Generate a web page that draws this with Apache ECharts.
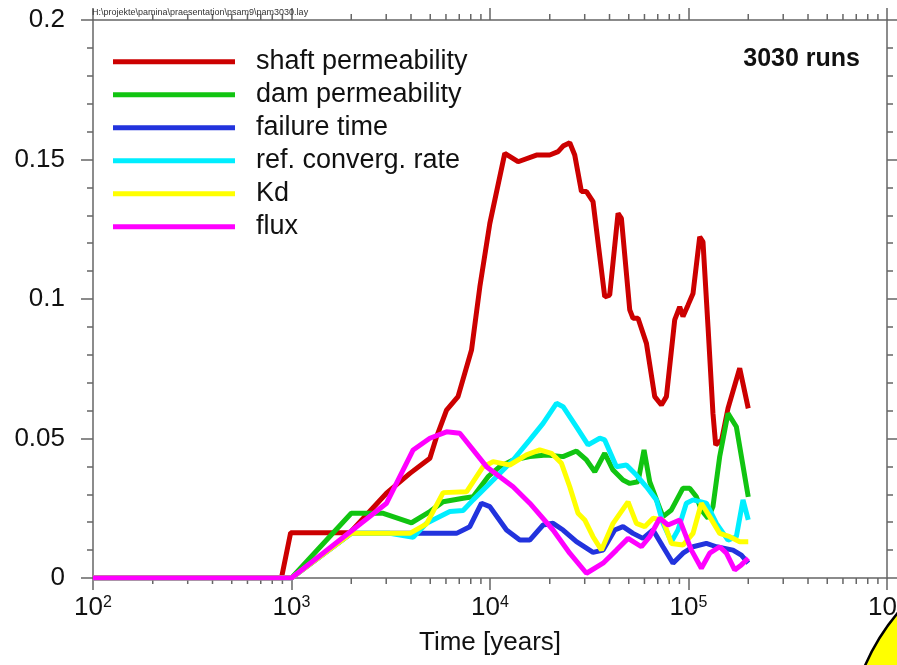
<!DOCTYPE html>
<html>
<head>
<meta charset="utf-8">
<script src="https://cdn.jsdelivr.net/npm/echarts@6/dist/echarts.min.js"></script>
<style>
html,body{margin:0;padding:0;background:#ffffff;}
#chart{width:897px;height:665px;}
</style>
</head>
<body>
<div id="chart"></div>
<script>
// ---- data (time in years, value) ----
const seriesNames = ['shaft permeability','dam permeability','failure time','ref. converg. rate','Kd','flux'];
const seriesColors = ['#cc0000','#11c411','#2233dd','#00eeff','#ffff00','#ff00ff'];

const shaftPermeability = [[100,0],[890,0],[990,0.0162],[1970,0.0162],[3010,0.0304],[3950,0.0375],[4980,0.0429],[5380,0.0506],[6040,0.0602],[6900,0.0650],[8070,0.0817],[8890,0.1044],[9980,0.1271],[11870,0.1522],[13850,0.1492],[17140,0.1516],[20000,0.1516],[22030,0.1528],[23340,0.1548],[25220,0.1560],[26720,0.1516],[28890,0.1385],[30620,0.1385],[33040,0.1349],[37840,0.1008],[40090,0.1014],[44170,0.1307],[45920,0.1289],[50580,0.0961],[52540,0.0931],[55680,0.0931],[61390,0.0841],[67590,0.0650],[73040,0.0620],[77390,0.0650],[85210,0.0925],[90300,0.0972],[93800,0.0937],[99400,0.0978],[105370,0.1020],[113900,0.1223],[118300,0.1205],[125400,0.0901],[132800,0.0590],[137100,0.0477],[146900,0.0495],[158100,0.0608],[181100,0.0752],[200000,0.0608]];

const damPermeability = [[100,0],[1000,0],[2000,0.0232],[2480,0.0232],[2900,0.0232],[4025,0.0198],[4977,0.0238],[5806,0.0273],[7320,0.0286],[8222,0.0291],[9780,0.0363],[11200,0.0399],[13070,0.0423],[15860,0.0435],[19250,0.0441],[23340,0.0435],[27260,0.0455],[30620,0.0423],[33710,0.0381],[37840,0.0447],[41670,0.0387],[46780,0.0351],[50580,0.0339],[55680,0.0345],[59700,0.0459],[63770,0.0345],[71610,0.0250],[74390,0.0220],[82000,0.0244],[93800,0.0322],[101400,0.0322],[109600,0.0291],[116100,0.0244],[125400,0.0214],[132800,0.0256],[143600,0.0435],[158100,0.0590],[174200,0.0542],[200000,0.0291]];

const failureTime = [[100,0],[1000,0],[2000,0.0160],[4100,0.0160],[4977,0.0160],[6780,0.0160],[7910,0.0184],[9060,0.0268],[9980,0.0256],[12110,0.0172],[14130,0.0136],[15860,0.0136],[18510,0.0190],[20780,0.0196],[23340,0.0172],[27260,0.0130],[33040,0.0092],[37110,0.0100],[42490,0.0172],[46780,0.0184],[52540,0.0160],[58980,0.0142],[66250,0.0172],[74390,0.0112],[83540,0.0053],[93800,0.0089],[105370,0.0112],[123000,0.0124],[138200,0.0112],[167500,0.0100],[184600,0.0082],[200000,0.0053]];

const refConvergRate = [[100,0],[1000,0],[2000,0.0160],[3130,0.0160],[4100,0.0146],[4790,0.0196],[6276,0.0238],[7320,0.0242],[8222,0.0280],[10780,0.0363],[13070,0.0423],[15860,0.0495],[18510,0.0554],[21620,0.0626],[23340,0.0614],[27260,0.0542],[31190,0.0477],[35720,0.0501],[37840,0.0495],[43350,0.0399],[48660,0.0405],[54650,0.0369],[61390,0.0327],[68900,0.0280],[74390,0.0196],[82000,0.0130],[88520,0.0172],[97530,0.0268],[105370,0.0280],[123000,0.0268],[138200,0.0196],[158100,0.0136],[174200,0.0148],[188200,0.0280],[200000,0.0208]];

const kd = [[100,0],[1000,0],[2000,0.0160],[3948,0.0160],[4790,0.0194],[5806,0.0306],[7616,0.0309],[9232,0.0399],[10360,0.0417],[12580,0.0405],[15270,0.0441],[17820,0.0459],[20400,0.0447],[22910,0.0411],[25220,0.0327],[27770,0.0232],[30010,0.0208],[33040,0.0148],[36430,0.0100],[41690,0.0196],[49600,0.0273],[54650,0.0196],[60190,0.0184],[66250,0.0214],[74390,0.0208],[82000,0.0124],[93800,0.0118],[105370,0.0160],[116100,0.0268],[127900,0.0220],[143600,0.0160],[161300,0.0148],[181100,0.0130],[200000,0.0130]];

const flux = [[100,0],[1000,0],[3013,0.0268],[4100,0.0459],[4977,0.0501],[6039,0.0524],[7046,0.0519],[9603,0.0399],[13070,0.0327],[15860,0.0268],[20780,0.0172],[25220,0.0089],[30620,0.0017],[37110,0.0053],[43350,0.0100],[49600,0.0142],[57930,0.0112],[63770,0.0148],[71610,0.0214],[78860,0.0190],[90300,0.0208],[103400,0.0100],[116100,0.0035],[127900,0.0089],[143600,0.0112],[155200,0.0089],[170900,0.0029],[184600,0.0047],[200000,0.0071]];

const allSeries = [shaftPermeability, damPermeability, failureTime, refConvergRate, kd, flux];

// axis ranges and ticks
const xMin = 100, xMax = 1000000;
const yMin = 0, yMax = 0.2, yStep = 0.05;
const minorTickValues = [200,300,400,500,600,700,800,900,2000,3000,4000,5000,6000,7000,8000,9000,20000,30000,40000,50000,60000,70000,80000,90000,200000,300000,400000,500000,600000,700000,800000,900000];

const titleText = '3030 runs';
const fileText = 'H:\\projekte\\pamina\\praesentation\\psam9\\pam3030.lay';
const xAxisName = 'Time [years]';

// ---- chart ----
const FONT = '"Liberation Sans", Arial, Helvetica, sans-serif';
const AXIS_COLOR = '#666666';
const chart = echarts.init(document.getElementById('chart'), null, {renderer: 'canvas'});

const lineSeries = allSeries.map((d, i) => ({
  name: seriesNames[i],
  type: 'line',
  data: d,
  showSymbol: false,
  symbol: 'none',
  lineStyle: {color: seriesColors[i], width: 5},
  itemStyle: {color: seriesColors[i]},
  z: 3 + i
}));

const tickSeries = {
  type: 'custom',
  silent: true,
  clip: false,
  data: minorTickValues.map(v => [v, 0]),
  encode: {x: 0, y: 1},
  z: 1,
  renderItem: function (params, api) {
    const v = api.value(0);
    const b = api.coord([v, yMin]);
    const t = api.coord([v, yMax]);
    return {
      type: 'group',
      children: [
        {type: 'line', shape: {x1: b[0], y1: b[1], x2: b[0], y2: b[1] + 6}, style: {stroke: AXIS_COLOR, lineWidth: 1.5}},
        {type: 'line', shape: {x1: t[0], y1: t[1], x2: t[0], y2: t[1] - 6}, style: {stroke: AXIS_COLOR, lineWidth: 1.5}}
      ]
    };
  }
};

function yFmt(v) { return String(parseFloat(v.toFixed(2))); }
function xFmt(v) { return '{b|10}{s|' + Math.round(Math.log10(v)) + '}'; }

const option = {
  backgroundColor: '#ffffff',
  animation: false,
  title: [
    {text: titleText, right: 37, top: 47, padding: 0,
     textStyle: {fontFamily: FONT, fontSize: 25, fontWeight: 'bold', color: '#111111'}},
    {text: fileText, left: 92, top: 8, padding: 0,
     textStyle: {fontFamily: FONT, fontSize: 9, fontWeight: 'normal', color: '#333333'}}
  ],
  legend: {
    data: seriesNames,
    orient: 'vertical',
    left: 113,
    top: 48.2,
    padding: 0,
    itemWidth: 122,
    itemHeight: 5,
    itemGap: 6,
    icon: 'rect',
    selectedMode: false,
    textStyle: {fontFamily: FONT, fontSize: 27, lineHeight: 27, color: '#111111', padding: [0, 0, 0, 16]}
  },
  grid: {left: 93, right: 10, top: 20, bottom: 87, containLabel: false, outerBoundsMode: 'none'},
  xAxis: [
    {
      type: 'log', logBase: 10, min: xMin, max: xMax, position: 'bottom',
      name: xAxisName, nameLocation: 'middle', nameGap: 52,
      nameTextStyle: {fontFamily: FONT, fontSize: 26, color: '#111111'},
      axisLine: {show: true, onZero: false, lineStyle: {color: AXIS_COLOR, width: 1.5}},
      axisTick: {show: true, inside: false, length: 12, lineStyle: {color: AXIS_COLOR, width: 1.5}},
      axisLabel: {
        show: true, margin: 17, formatter: xFmt, hideOverlap: false,
        rich: {
          b: {fontFamily: FONT, fontSize: 26, lineHeight: 26, color: '#111111'},
          s: {fontFamily: FONT, fontSize: 16, lineHeight: 16, verticalAlign: 'top', color: '#111111'}
        }
      },
      splitLine: {show: false}, minorTick: {show: false}
    },
    {
      type: 'log', logBase: 10, min: xMin, max: xMax, position: 'top',
      axisLine: {show: true, onZero: false, lineStyle: {color: AXIS_COLOR, width: 1.5}},
      axisTick: {show: true, inside: false, length: 12, lineStyle: {color: AXIS_COLOR, width: 1.5}},
      axisLabel: {show: false}, splitLine: {show: false}
    }
  ],
  yAxis: [
    {
      type: 'value', min: yMin, max: yMax, interval: yStep, position: 'left',
      axisLine: {show: true, onZero: false, lineStyle: {color: AXIS_COLOR, width: 1.5}},
      axisTick: {show: true, inside: false, length: 12, lineStyle: {color: AXIS_COLOR, width: 1.5}},
      minorTick: {show: true, splitNumber: 5, length: 6, lineStyle: {color: AXIS_COLOR, width: 1.5}},
      axisLabel: {margin: 28, formatter: yFmt, fontFamily: FONT, fontSize: 26, color: '#111111'},
      splitLine: {show: false}, minorSplitLine: {show: false}
    },
    {
      type: 'value', min: yMin, max: yMax, interval: yStep, position: 'right',
      axisLine: {show: true, onZero: false, lineStyle: {color: AXIS_COLOR, width: 1.5}},
      axisTick: {show: true, inside: false, length: 12, lineStyle: {color: AXIS_COLOR, width: 1.5}},
      minorTick: {show: true, splitNumber: 5, length: 6, lineStyle: {color: AXIS_COLOR, width: 1.5}},
      axisLabel: {show: false},
      splitLine: {show: false}, minorSplitLine: {show: false}
    }
  ],
  graphic: [
    {type: 'circle', shape: {cx: 1063, cy: 752, r: 216}, z: 100,
     style: {fill: '#ffff00', stroke: '#000000', lineWidth: 2.5}}
  ],
  series: [tickSeries].concat(lineSeries)
};

chart.setOption(option);
</script>
</body>
</html>
